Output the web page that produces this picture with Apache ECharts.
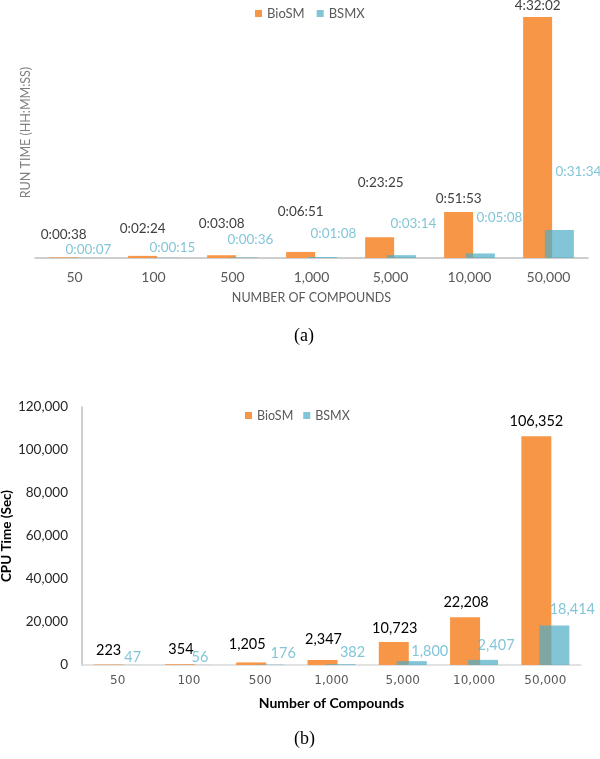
<!DOCTYPE html>
<html>
<head>
  <meta charset="UTF-8">
  <title>BioSM vs BSMX run time and CPU time</title>
  <script src="https://cdn.jsdelivr.net/npm/echarts/dist/echarts.min.js"></script>
  <style>
    html, body { margin: 0; padding: 0; background: #fff; }
    #chart { width: 600px; height: 759px; }
  </style>
</head>
<body>
<div id="chart"></div>
<script>
  // ---- data ----
  var compounds = ['50', '100', '500', '1,000', '5,000', '10,000', '50,000'];

  // (a) run time, in seconds (labels show HH:MM:SS)
  var runBioSM = [38, 144, 188, 411, 1405, 3113, 16322];
  var runBSMX  = [7, 15, 36, 68, 194, 308, 1894];

  // (b) CPU time, in seconds
  var cpuBioSM = [223, 354, 1205, 2347, 10723, 22208, 106352];
  var cpuBSMX  = [47, 56, 176, 382, 1800, 2407, 18414];

  // hand placed data labels in the original, nudges [dx, dy] from the bar top
  var runBioNudge  = [[0,-11],[0,-15],[0,-20],[0,-28],[1,-43],[0,-1],[0,1]];
  var runBsmxNudge = [[3,4],[8,2],[7,-6],[11,-11],[12,-19],[19,-24],[19,-46]];
  var cpuBioNudge  = [[0,-2],[1,-2],[-4,-6],[1,-8],[1,-1],[1,-2],[0,-3]];
  var cpuBsmxNudge = [[6,5],[2,5],[14,1],[12,1],[18,3],[13,-2],[18,-4]];

  var ORANGE = '#F79646';
  var TEAL = '#4BACC6';
  var FONT = 'Lato';

  function hms(sec) {
    var h = Math.floor(sec / 3600);
    var m = Math.floor((sec % 3600) / 60);
    var s = sec % 60;
    return h + ':' + (m < 10 ? '0' : '') + m + ':' + (s < 10 ? '0' : '') + s;
  }

  function withNudge(values, nudges) {
    return values.map(function (v, i) {
      return { value: v, label: { offset: nudges[i] } };
    });
  }

  var myChart = echarts.init(document.getElementById('chart'));

  var option = {
    animation: false,
    legend: [
      {
        data: ['BioSM', 'BSMX'],
        left: 250, top: 2,
        icon: 'rect', itemWidth: 7, itemHeight: 7, itemGap: 12,
        textStyle: { fontFamily: FONT, fontSize: 13, color: '#595959' }
      },
      {
        data: ['BioSM', 'BSMX'],
        left: 240, top: 404,
        icon: 'rect', itemWidth: 7, itemHeight: 7, itemGap: 10,
        textStyle: { fontFamily: FONT, fontSize: 12.5, color: '#595959' }
      }
    ],
    grid: [
      { left: 35, right: 12, top: 7, bottom: 501, outerBoundsMode: 'none' },
      { left: 82, right: 19, top: 407, bottom: 94, outerBoundsMode: 'none' }
    ],
    xAxis: [
      {
        gridIndex: 0, type: 'category', data: compounds,
        axisLine: { lineStyle: { color: '#bfbfbf', width: 1.5 } },
        axisTick: { show: false },
        axisLabel: { margin: 12, fontFamily: FONT, fontSize: 14, color: '#595959' },
        name: 'NUMBER OF COMPOUNDS', nameLocation: 'middle', nameGap: 33,
        nameMoveOverlap: false,
        nameTextStyle: { fontFamily: FONT, fontSize: 12.5, color: '#595959' }
      },
      {
        gridIndex: 1, type: 'category', data: compounds,
        axisLine: { lineStyle: { color: '#d9d9d9', width: 1.5 } },
        axisTick: { show: false },
        axisLabel: { margin: 10, fontFamily: 'DejaVu Sans', fontSize: 12, color: '#595959' },
        name: 'Number of Compounds', nameLocation: 'middle', nameGap: 31,
        nameMoveOverlap: false,
        nameTextStyle: { fontFamily: FONT, fontSize: 14, fontWeight: 'bold', color: '#000' }
      }
    ],
    yAxis: [
      {
        gridIndex: 0, type: 'value', min: 0, max: 17000,
        axisLine: { show: false }, axisTick: { show: false },
        axisLabel: { show: false }, splitLine: { show: false },
        name: 'RUN TIME (HH:MM:SS)', nameLocation: 'middle', nameGap: 3,
        nameMoveOverlap: false,
        nameTextStyle: { fontFamily: FONT, fontSize: 12.5, color: '#7f7f7f' }
      },
      {
        gridIndex: 1, type: 'value', min: 0, max: 120000, interval: 20000,
        axisLine: { show: true, lineStyle: { color: '#bfbfbf', width: 1.5 } },
        axisTick: { show: false },
        splitLine: { show: false },
        axisLabel: {
          margin: 14, fontFamily: FONT, fontSize: 13.5, color: '#262626',
          formatter: function (v) { return v.toLocaleString('en-US'); }
        },
        name: 'CPU Time (Sec)', nameLocation: 'middle', nameGap: 68,
        nameMoveOverlap: false,
        nameTextStyle: { fontFamily: FONT, fontSize: 13.5, fontWeight: 'bold', color: '#000' }
      }
    ],
    series: [
      {
        name: 'BioSM', type: 'bar', xAxisIndex: 0, yAxisIndex: 0,
        data: withNudge(runBioSM, runBioNudge),
        barWidth: 29, barGap: '-25%',
        itemStyle: { color: ORANGE },
        label: {
          show: true, position: 'top', distance: 5,
          fontFamily: FONT, fontSize: 13.5, color: '#404040',
          formatter: function (p) { return hms(p.value); }
        }
      },
      {
        name: 'BSMX', type: 'bar', xAxisIndex: 0, yAxisIndex: 0,
        data: withNudge(runBSMX, runBsmxNudge),
        barWidth: 29, barGap: '-25%',
        itemStyle: { color: TEAL, opacity: 0.7 },
        label: {
          show: true, position: 'top', distance: 5,
          fontFamily: FONT, fontSize: 13.5, color: TEAL,
          formatter: function (p) { return hms(p.value); }
        }
      },
      {
        name: 'BioSM', type: 'bar', xAxisIndex: 1, yAxisIndex: 1,
        data: withNudge(cpuBioSM, cpuBioNudge),
        barWidth: 30, barGap: '-40%',
        itemStyle: { color: ORANGE },
        label: {
          show: true, position: 'top', distance: 5,
          fontFamily: FONT, fontSize: 14.5, color: '#000',
          formatter: function (p) { return p.value.toLocaleString('en-US'); }
        }
      },
      {
        name: 'BSMX', type: 'bar', xAxisIndex: 1, yAxisIndex: 1,
        data: withNudge(cpuBSMX, cpuBsmxNudge),
        barWidth: 30, barGap: '-40%',
        itemStyle: { color: TEAL, opacity: 0.7 },
        label: {
          show: true, position: 'top', distance: 5,
          fontFamily: FONT, fontSize: 14.5, color: TEAL,
          formatter: function (p) { return p.value.toLocaleString('en-US'); }
        }
      }
    ],
    graphic: [
      {
        type: 'text', left: 294, top: 327,
        style: { text: '(a)', font: '18px "Liberation Serif"', fill: '#000' }
      },
      {
        type: 'text', left: 294, top: 730,
        style: { text: '(b)', font: '18px "Liberation Serif"', fill: '#000' }
      }
    ]
  };

  myChart.setOption(option);
</script>
</body>
</html>
